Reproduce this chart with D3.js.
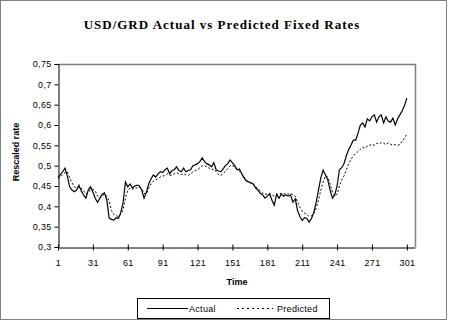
<!DOCTYPE html>
<html>
<head>
<meta charset="utf-8">
<script src="https://cdn.jsdelivr.net/npm/d3@7"></script>
<style>
  body { margin: 0; background: #fff; }
  svg { display: block; font-family: "Liberation Sans", Arial, sans-serif; }
</style>
</head>
<body>
<svg id="chart" width="449" height="321"></svg>
<script>
'use strict';

// Time steps (every 2nd observation)
const times = d3.range(1, 302, 2);

const actual = [
  0.472, 0.478, 0.485, 0.494, 0.475, 0.448, 0.440, 0.436, 0.440, 0.452,
  0.438, 0.428, 0.420, 0.440, 0.448, 0.435, 0.420, 0.410, 0.420, 0.430,
  0.433, 0.415, 0.371, 0.368, 0.366, 0.372, 0.370, 0.385, 0.410, 0.460,
  0.448, 0.455, 0.445, 0.450, 0.452, 0.450, 0.440, 0.420, 0.435, 0.455,
  0.468, 0.477, 0.472, 0.480, 0.485, 0.483, 0.490, 0.494, 0.480, 0.488,
  0.490, 0.497, 0.488, 0.485, 0.494, 0.485, 0.488, 0.490, 0.500, 0.502,
  0.505, 0.510, 0.519, 0.510, 0.505, 0.502, 0.497, 0.507, 0.490, 0.487,
  0.485, 0.492, 0.500, 0.505, 0.514, 0.507, 0.500, 0.490, 0.492, 0.480,
  0.470, 0.462, 0.460, 0.458, 0.455, 0.445, 0.440, 0.432, 0.428, 0.420,
  0.425, 0.430, 0.415, 0.403, 0.430, 0.420, 0.430, 0.425, 0.428, 0.425,
  0.428, 0.410, 0.418, 0.390, 0.375, 0.365, 0.372, 0.370, 0.361, 0.370,
  0.385, 0.410, 0.440, 0.470, 0.489, 0.477, 0.465, 0.440, 0.420, 0.428,
  0.450, 0.490, 0.495, 0.505, 0.525, 0.540, 0.551, 0.563, 0.563, 0.580,
  0.600, 0.605, 0.595, 0.615, 0.610, 0.620, 0.625, 0.607, 0.620, 0.625,
  0.605, 0.620, 0.610, 0.607, 0.617, 0.600, 0.615, 0.625, 0.635, 0.648,
  0.666
];

const predicted = [
  0.468, 0.472, 0.478, 0.483, 0.485, 0.470, 0.458, 0.448, 0.445, 0.448,
  0.445, 0.438, 0.430, 0.435, 0.440, 0.442, 0.438, 0.425, 0.420, 0.425,
  0.430, 0.425, 0.412, 0.390, 0.380, 0.377, 0.375, 0.380, 0.392, 0.420,
  0.440, 0.445, 0.442, 0.445, 0.445, 0.447, 0.443, 0.432, 0.430, 0.445,
  0.455, 0.462, 0.465, 0.468, 0.472, 0.474, 0.476, 0.480, 0.476, 0.477,
  0.480, 0.483, 0.480, 0.478, 0.480, 0.477, 0.476, 0.480, 0.485, 0.488,
  0.490, 0.495, 0.500, 0.500, 0.497, 0.494, 0.490, 0.492, 0.485, 0.478,
  0.476, 0.480, 0.487, 0.493, 0.500, 0.500, 0.497, 0.490, 0.487, 0.480,
  0.472, 0.465, 0.460, 0.456, 0.453, 0.448, 0.443, 0.438, 0.433, 0.430,
  0.430, 0.432, 0.428, 0.425, 0.428, 0.430, 0.432, 0.430, 0.432, 0.430,
  0.432, 0.428, 0.425, 0.410, 0.398, 0.388, 0.383, 0.380, 0.375, 0.377,
  0.382, 0.395, 0.415, 0.440, 0.460, 0.475, 0.472, 0.455, 0.435, 0.425,
  0.430, 0.450, 0.465, 0.475, 0.490, 0.505, 0.515, 0.525, 0.530, 0.535,
  0.540, 0.545, 0.543, 0.548, 0.550, 0.553, 0.550, 0.555, 0.553, 0.557,
  0.555, 0.552, 0.556, 0.553, 0.550, 0.552, 0.550, 0.552, 0.560, 0.568,
  0.577
];

const xTicks = d3.range(1, 302, 30);
const yTicks = [0.3, 0.35, 0.4, 0.45, 0.5, 0.55, 0.6, 0.65, 0.7, 0.75];

const svg = d3.select('#chart');
const plot = { left: 58, right: 415, top: 64, bottom: 247 };

const x = d3.scaleLinear().domain([1, 308]).range([plot.left, plot.right]);
const y = d3.scaleLinear().domain([0.3, 0.75]).range([plot.bottom, plot.top]);
const fmt = d => String(+d.toFixed(2)).replace('.', ',');

// Outer frame
svg.append('rect')
    .attr('x', 0.5).attr('y', 0.5)
    .attr('width', 446).attr('height', 319)
    .attr('fill', 'none').attr('stroke', '#808080');

// Title
svg.append('text')
    .attr('x', 222).attr('y', 29)
    .attr('text-anchor', 'middle')
    .style('font-family', '"Liberation Serif", "Times New Roman", serif')
    .style('font-weight', 'bold')
    .style('font-size', '13px')
    .style('letter-spacing', '1px')
    .text('USD/GRD Actual vs Predicted Fixed Rates');

// Plot area border (top / right in gray)
svg.append('path')
    .attr('d', `M${plot.left},${plot.top + 0.5}H${plot.right + 0.5}V${plot.bottom}`)
    .attr('fill', 'none').attr('stroke', '#808080').attr('stroke-width', 1.5);

// Y axis
const yAxis = svg.append('g')
    .attr('transform', `translate(${plot.left + 0.5},0)`)
    .call(d3.axisLeft(y).tickValues(yTicks).tickSize(4).tickPadding(3).tickFormat(fmt));
yAxis.select('.domain').attr('stroke', '#000');
yAxis.selectAll('text').style('font-size', '9px').style('letter-spacing', '0.3px').attr('fill', '#000');

// X axis (cross ticks)
const xAxis = svg.append('g')
    .attr('transform', `translate(0,${plot.bottom + 0.5})`)
    .call(d3.axisBottom(x).tickValues(xTicks).tickSize(3).tickSizeOuter(0).tickPadding(9).tickFormat(d3.format('d')));
xAxis.select('.domain').attr('stroke', '#000');
xAxis.selectAll('.tick line').attr('y1', -3);
xAxis.selectAll('text').style('font-size', '9px').style('letter-spacing', '0.3px').attr('fill', '#000');

// Axis titles
svg.append('text')
    .attr('x', 237).attr('y', 285)
    .attr('text-anchor', 'middle')
    .style('font-size', '9px').style('font-weight', 'bold')
    .text('Time');

svg.append('text')
    .attr('transform', 'translate(19,152) rotate(-90)')
    .attr('text-anchor', 'middle')
    .style('font-size', '9px').style('font-weight', 'bold')
    .text('Rescaled rate');

// Lines
const line = d3.line().x((d, i) => x(times[i])).y(d => y(d));

svg.append('path')
    .datum(predicted)
    .attr('d', line)
    .attr('fill', 'none').attr('stroke', '#000')
    .attr('stroke-width', 1).attr('stroke-dasharray', '2,2');

svg.append('path')
    .datum(actual)
    .attr('d', line)
    .attr('fill', 'none').attr('stroke', '#000')
    .attr('stroke-width', 1.2);

// Legend
const legend = svg.append('g');
legend.append('rect')
    .attr('x', 137.5).attr('y', 298.5)
    .attr('width', 192).attr('height', 20)
    .attr('fill', '#fff').attr('stroke', '#000');
legend.append('line')
    .attr('x1', 147).attr('x2', 188).attr('y1', 308.5).attr('y2', 308.5)
    .attr('stroke', '#000').attr('stroke-width', 1.2);
legend.append('text')
    .attr('x', 189).attr('y', 312)
    .style('font-size', '9px').style('letter-spacing', '0.3px')
    .text('Actual');
legend.append('line')
    .attr('x1', 237).attr('x2', 273).attr('y1', 308.5).attr('y2', 308.5)
    .attr('stroke', '#000').attr('stroke-width', 1).attr('stroke-dasharray', '2,3');
legend.append('text')
    .attr('x', 277).attr('y', 312)
    .style('font-size', '9px').style('letter-spacing', '0.3px')
    .text('Predicted');
</script>
</body>
</html>
